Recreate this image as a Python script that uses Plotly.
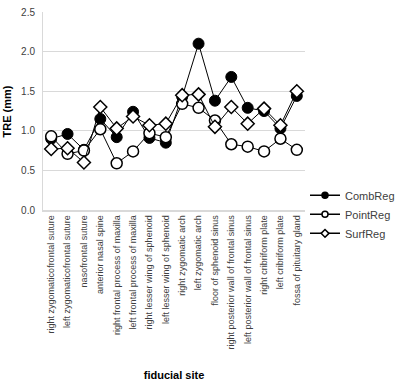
import plotly.graph_objects as go

sites = ["right zygomaticofrontal suture", "left zygomaticofrontal suture", "nasofrontal suture",
         "anterior nasal spine", "right frontal process of maxilla", "left frontal process of maxilla",
         "right lesser wing of sphenoid", "left lesser wing of sphenoid", "right zygomatic arch",
         "left zygomatic arch", "floor of sphenoid sinus", "right posterior wall of frontal sinus",
         "left posterior wall of frontal sinus", "right cribriform plate", "left cribriform plate",
         "fossa of pituitary gland"]
comb_reg = [0.90, 0.96, 0.76, 1.15, 0.92, 1.24, 0.91, 0.85, 1.43, 2.10, 1.38, 1.68, 1.29, 1.25, 1.03, 1.44]
point_reg = [0.93, 0.71, 0.75, 1.02, 0.59, 0.74, 0.97, 0.92, 1.34, 1.29, 1.13, 0.83, 0.80, 0.74, 0.90, 0.76]
surf_reg = [0.77, 0.78, 0.60, 1.30, 1.03, 1.18, 1.07, 1.09, 1.45, 1.46, 1.05, 1.30, 1.09, 1.28, 1.07, 1.50]

series = [
    ("CombReg", comb_reg, "circle", 11, "black", 1),
    ("PointReg", point_reg, "circle", 11, "white", 1.5),
    ("SurfReg", surf_reg, "diamond", 10, "white", 1.5),
]

fig = go.Figure()
for name, vals, sym, size, fill, lw in series:
    fig.add_trace(go.Scatter(x=sites, y=vals, name=name, mode="lines+markers", showlegend=False,
                             line=dict(color="black", width=1),
                             marker=dict(symbol=sym, size=size, color=fill, line=dict(color="black", width=lw))))
for name, vals, sym, size, fill, lw in series:
    fig.add_trace(go.Scatter(x=[None], y=[None], name=name, mode="lines+markers",
                             line=dict(color="black", width=1.5),
                             marker=dict(symbol=sym, size=6, color=fill,
                                         line=dict(color="black", width=1.5))))

fig.update_layout(
    width=400, height=388,
    margin=dict(l=43, r=95, t=12, b=178, autoexpand=False),
    paper_bgcolor="white", plot_bgcolor="white",
    font=dict(family="Liberation Sans, Arial, sans-serif", size=10, color="#404040"),
    legend=dict(x=1.0, y=-0.022, xanchor="left", yanchor="middle",
                font=dict(size=11, color="#404040"), tracegroupgap=0, itemwidth=30,
                bgcolor="rgba(0,0,0,0)"),
    xaxis=dict(tickangle=-90, tickfont=dict(size=9, color="#404040"), showgrid=False, automargin=False,
               range=[-0.5, len(sites) - 0.5],
               showline=True, linecolor="#d9d9d9", linewidth=1.5, ticks="",
               title=dict(text="<b>fiducial site</b>", font=dict(size=11, color="black"), standoff=23)),
    yaxis=dict(range=[0, 2.5], dtick=0.5, tickformat=".1f", showgrid=True, gridcolor="#d9d9d9",
               showline=True, linecolor="#d9d9d9", zeroline=False, ticks="", automargin=False,
               ticklabelstandoff=5,
               tickfont=dict(size=10, color="#404040")),
    annotations=[dict(text="<b>TRE (mm)</b>", xref="paper", yref="paper", x=-0.1355, y=0.5,
                      textangle=-90, showarrow=False, xanchor="center", yanchor="middle",
                      font=dict(size=11, color="black"))],
)
fig.write_html("out.html", config={"displayModeBar": False},
               post_script="document.body.style.margin='0';document.body.style.overflow='hidden';")
